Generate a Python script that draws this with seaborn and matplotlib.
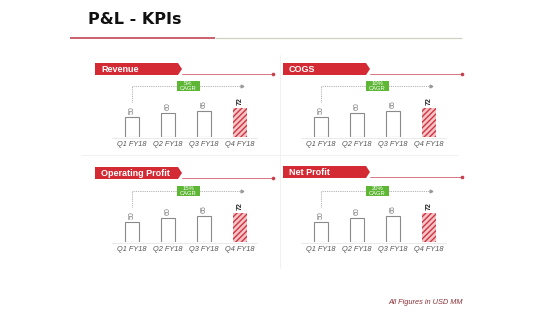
import matplotlib
matplotlib.use("Agg")
import matplotlib.pyplot as plt
from matplotlib.patches import Polygon, Rectangle
import seaborn as sns
import pandas as pd

sns.set_theme(style="white")
plt.rcParams['font.family'] = ['Liberation Sans', 'DejaVu Sans']

# ---- data ----
quarters = ["Q1 FY18", "Q2 FY18", "Q3 FY18", "Q4 FY18"]
revenue = [50, 60, 65, 72]
cogs = [50, 60, 65, 72]
operating_profit = [50, 60, 65, 72]
net_profit = [50, 60, 65, 72]
panel_titles = ["Revenue", "COGS", "Operating Profit", "Net Profit"]
cagr_labels = ["5%", "10%", "15%", "20%"]
title = "P&L - KPIs"
footnote = "All Figures in USD MM"

series = [revenue, cogs, operating_profit, net_profit]

W, H = 560, 315
fig = plt.figure(figsize=(W / 100, H / 100), dpi=100)
fig.patch.set_facecolor("white")

def px_axes(left, top, width, height):
    return fig.add_axes([left / W, 1 - (top + height) / H, width / W, height / H])

# overlay for decorations (pixel coordinates)
ov = px_axes(0, 0, W, H)
ov.set_xlim(0, W)
ov.set_ylim(H, 0)
ov.axis("off")
ov.set_zorder(0)

# title
ov.text(88, 20, title, fontsize=11.5, fontweight="bold", color="#111111",
        family="DejaVu Sans", va="center", ha="left")
ov.plot([70, 215], [37.5, 37.5], color="#c65460", lw=1.3, solid_capstyle="butt")
ov.plot([215, 462], [37.5, 37.5], color="#ccd3c0", lw=0.9, solid_capstyle="butt")

# faint separators
ov.plot([280, 280], [55, 268], color="#efefef", lw=0.6)
ov.plot([82, 458], [155, 155], color="#efefef", lw=0.6)

# footnote
ov.text(463, 302, footnote, fontsize=5.3, style="italic", color="#8a2f35",
        ha="right", va="center")

layout = [
    # axes_left, baseline, banner_x0, banner_x1, banner_top, line_end
    (114, 137, 95, 182, 63, 273),
    (303, 137, 283, 370, 63, 462),
    (114, 242, 95, 182, 167, 273),
    (303, 242, 283, 370, 166, 462),
]

scale = 0.4  # px per unit
ax_h = 57
for i, (vals, ptitle, cagr) in enumerate(zip(series, panel_titles, cagr_labels)):
    axl, base, bx0, bx1, btop, lend = layout[i]
    bh = 12
    # banner
    poly = Polygon([(bx0, btop), (bx1 - 4, btop), (bx1, btop + bh / 2),
                    (bx1 - 4, btop + bh), (bx0, btop + bh)], closed=True,
                   facecolor="#d42a33", edgecolor="none")
    ov.add_patch(poly)
    ov.text(bx0 + 6, btop + bh / 2 + 0.3, ptitle, fontsize=6.5, fontweight="bold",
            color="white", va="center", ha="left")
    ly = btop + bh - 1
    ov.plot([bx1, lend], [ly, ly], color="#d0606c", lw=0.6)
    ov.plot([lend], [ly], marker="o", ms=1.6, color="#c8404c")
    # baseline
    ov.plot([axl - 2, axl + 143], [base + 0.5, base + 0.5], color="#e6e6e6", lw=0.6)

    ax = px_axes(axl, base - ax_h, 144, ax_h)
    ax.set_zorder(1)
    ax.patch.set_alpha(0)
    df = pd.DataFrame({"quarter": quarters, "value": vals})
    sns.barplot(data=df, x="quarter", y="value", ax=ax, color="white",
                edgecolor="#8a8a8a", linewidth=0.8, width=0.37, saturation=1)
    last = ax.patches[-1]
    last.set_facecolor("#f3c4c8")
    last.set_edgecolor("#d0353f")
    last.set_hatch("//////")
    last.set_linewidth(0.0)
    ax.set_xlim(-0.5, 3.5)
    ax.set_ylim(0, ax_h / scale)
    for s in ax.spines.values():
        s.set_visible(False)
    ax.set_yticks([])
    ax.set_xlabel("")
    ax.set_ylabel("")
    ax.tick_params(axis="x", length=0, pad=3.2, labelsize=5.3, labelcolor="#555555")
    for lab in ax.get_xticklabels():
        lab.set_fontstyle("italic")
    for j, v in enumerate(vals):
        bold = j == len(vals) - 1
        ax.annotate(str(v), (j, v), xytext=(0, 2.2), textcoords="offset points",
                    rotation=90, ha="center", va="bottom", fontsize=5,
                    color="#222222" if bold else "#777777",
                    fontweight="bold" if bold else "normal")
    # CAGR arrow (offsets in px above the baseline)
    ya = 51 / scale
    yv = 35 / scale
    ax.plot([0, 0], [yv, ya], color="#999999", lw=0.6, ls=(0, (1, 1.2)), clip_on=False)
    ax.plot([0, 3.02], [ya, ya], color="#999999", lw=0.6, ls=(0, (1, 1.2)), clip_on=False)
    ax.plot([3.05], [ya], marker=">", ms=2, color="#999999", clip_on=False)
    bw = 23 / 36
    bhd = 10 / scale
    cx = 1.56
    ax.add_patch(Rectangle((cx - bw / 2, ya - bhd / 2), bw, bhd,
                           facecolor="#5db734", edgecolor="none", zorder=3, clip_on=False))
    ax.text(cx, ya, cagr + "\nCAGR", fontsize=4.2, color="white", ha="center",
            va="center", linespacing=0.95, zorder=4)

fig.savefig("out.png", dpi=100, facecolor="white")
